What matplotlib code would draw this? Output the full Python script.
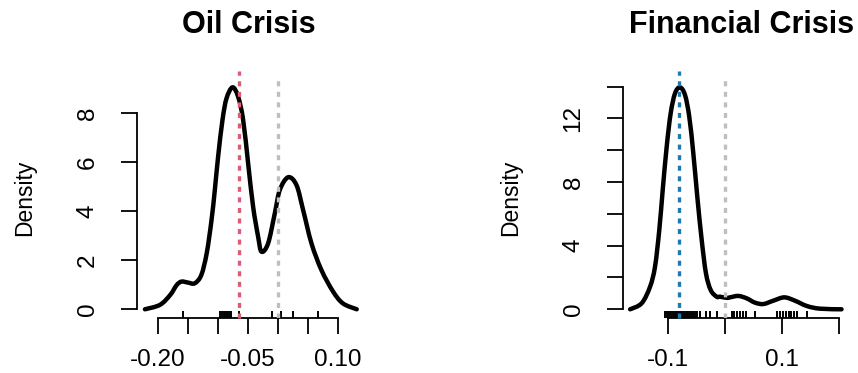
import matplotlib
matplotlib.use("Agg")
import matplotlib.pyplot as plt
from matplotlib.path import Path
from matplotlib.patches import PathPatch

plt.rcParams['font.family'] = ['Liberation Sans', 'DejaVu Sans']
plt.rcParams['axes.unicode_minus'] = False
plt.rcParams['lines.scale_dashes'] = False

# ---------------- data ----------------
titles = ["Oil Crisis", "Financial Crisis"]

oil_x = [-0.222, -0.197, -0.180, -0.169, -0.161, -0.150, -0.139, -0.128, -0.119,
         -0.111, -0.1055, -0.100, -0.0927, -0.086, -0.076, -0.0667, -0.0583, -0.050,
         -0.0417, -0.0333, -0.0277, -0.0167, -0.0055, 0.0028, 0.0167, 0.0306, 0.0417,
         0.0556, 0.0722, 0.0917, 0.108, 0.131]
oil_y = [0.0, 0.18, 0.58, 0.99, 1.13, 1.09, 1.06, 1.40, 2.29,
         3.64, 4.87, 6.23, 7.73, 8.61, 9.06, 8.68, 7.73, 5.96,
         4.19, 2.96, 2.35, 2.69, 3.92, 4.87, 5.39, 5.07, 4.05,
         2.69, 1.60, 0.72, 0.24, 0.0]
oil_rug = [-0.159, -0.097, -0.094, -0.091, -0.089, -0.086, -0.083, -0.080, -0.078,
           -0.066, -0.011, 0.0056, 0.025, 0.067]
oil_event = -0.065
oil_zero = 0.0

fin_x = [-0.167, -0.1467, -0.132, -0.1233, -0.1158, -0.1098, -0.1028, -0.0958, -0.0882,
         -0.0795, -0.0707, -0.0632, -0.0561, -0.0491, -0.0414, -0.0339, -0.0256, -0.0151,
         -0.0093, 0.0025, 0.0082, 0.0228, 0.0375, 0.052, 0.0667, 0.0842, 0.1035, 0.1223,
         0.1428, 0.166, 0.204]
fin_y = [0.0, 0.38, 1.42, 2.68, 4.99, 7.50, 10.23, 12.33, 13.58,
         13.96, 13.48, 12.11, 9.81, 7.08, 4.36, 2.26, 1.21, 0.79,
         0.79, 0.72, 0.75, 0.84, 0.69, 0.42, 0.33, 0.54, 0.75, 0.54,
         0.21, 0.04, 0.0]
fin_rug = [-0.106, -0.103, -0.100, -0.098, -0.095, -0.092, -0.089, -0.086, -0.083,
           -0.080, -0.077, -0.074, -0.071, -0.068, -0.065, -0.062, -0.059, -0.056,
           -0.053, -0.050, -0.044, -0.033, -0.027, -0.015, 0.011, 0.016, 0.021,
           0.026, 0.031, 0.037, 0.052, 0.090, 0.096, 0.101, 0.106, 0.111, 0.116,
           0.121, 0.125, 0.143]
fin_event = -0.081
fin_zero = 0.0

oil_xticks = [-0.20, -0.15, -0.10, -0.05, 0.00, 0.05, 0.10]
oil_xlabels = ["-0.20", "", "", "-0.05", "", "", "0.10"]
oil_yticks = [0, 2, 4, 6, 8]
oil_ylabels = ["0", "2", "4", "6", "8"]

fin_xticks = [-0.1, 0.0, 0.1, 0.2]
fin_xlabels = ["-0.1", "", "0.1", ""]
fin_yticks = [0, 2, 4, 6, 8, 10, 12, 14]
fin_ylabels = ["0", "", "4", "", "8", "", "12", ""]

# ---------------- figure ----------------
W, H = 858, 373
fig = plt.figure(figsize=(W / 100, H / 100), dpi=100)


def px_axes(l, r, t, b):
    return fig.add_axes([l / W, (H - b) / H, (r - l) / W, (b - t) / H])


def smooth_path(xs, ys):
    """Cubic Bezier path passing through every read point (Catmull-Rom handles)."""
    pts = list(zip(xs, ys))
    n = len(pts)
    verts = [pts[0]]
    codes = [Path.MOVETO]
    for i in range(n - 1):
        p0 = pts[i - 1] if i > 0 else pts[i]
        p1 = pts[i]
        p2 = pts[i + 1]
        p3 = pts[i + 2] if i + 2 < n else pts[i + 1]
        c1 = (p1[0] + (p2[0] - p0[0]) / 6.0, p1[1] + (p2[1] - p0[1]) / 6.0)
        c2 = (p2[0] - (p3[0] - p1[0]) / 6.0, p2[1] - (p3[1] - p1[1]) / 6.0)
        verts += [c1, c2, p2]
        codes += [Path.CURVE4, Path.CURVE4, Path.CURVE4]
    return Path(verts, codes)


panels = [
    dict(box=(136.7, 365.3, 78.5, 318.1), xlim=(-0.2357, 0.1453), ylim=(-0.36, 9.42),
         x=oil_x, y=oil_y, rug=oil_rug, ev=oil_event, zero=oil_zero, evcol="#DF5A74",
         xt=oil_xticks, xl=oil_xlabels, yt=oil_yticks, yl=oil_ylabels, title=titles[0],
         tx=248.5),
    dict(box=(622.7, 850.1, 78.4, 318.2), xlim=(-0.180, 0.219), ylim=(-0.56, 14.52),
         x=fin_x, y=fin_y, rug=fin_rug, ev=fin_event, zero=fin_zero, evcol="#1F78B0",
         xt=fin_xticks, xl=fin_xlabels, yt=fin_yticks, yl=fin_ylabels, title=titles[1],
         tx=742.0),
]

for p in panels:
    l, r, t, b = p["box"]
    ax = px_axes(l, r, t, b)
    ax.set_xlim(*p["xlim"])
    ax.set_ylim(*p["ylim"])
    ax.patch.set_alpha(0)

    patch = PathPatch(smooth_path(p["x"], p["y"]), facecolor="none", edgecolor="black",
                      lw=3.2, joinstyle="round", capstyle="round", zorder=3)
    ax.add_patch(patch)

    # rug
    for v in p["rug"]:
        ax.plot([v, v], [0, 0.029], transform=ax.get_xaxis_transform(),
                color="black", lw=1.4, solid_capstyle="butt", zorder=2)

    # vertical reference lines
    ax.axvline(p["zero"], ymin=0, ymax=1.0, color="#BEBEBE", lw=2.4,
               dashes=(3.6, 4.0), dash_capstyle="butt", zorder=4)
    ax.axvline(p["ev"], ymin=0, ymax=1.03, color=p["evcol"], lw=2.4,
               dashes=(3.6, 4.0), dash_capstyle="butt", zorder=5, clip_on=False)

    for s in ["top", "right"]:
        ax.spines[s].set_visible(False)
    ax.spines["left"].set_bounds(p["yt"][0], p["yt"][-1])
    ax.spines["bottom"].set_bounds(p["xt"][0], p["xt"][-1])
    for s in ["left", "bottom"]:
        ax.spines[s].set_linewidth(1.3)

    ax.set_xticks(p["xt"])
    ax.set_xticklabels(p["xl"])
    ax.set_yticks(p["yt"])
    ax.set_yticklabels(p["yl"])
    ax.tick_params(axis="both", length=11.5, width=1.3, labelsize=17.5)
    ax.tick_params(axis="x", pad=11)
    ax.tick_params(axis="y", pad=16)
    for lab in ax.get_yticklabels():
        lab.set_rotation(90)
        lab.set_va("center")

    fig.text(p["tx"] / W, (H - 33.3) / H, p["title"], ha="center", va="baseline",
             fontsize=22, fontweight="bold")
    fig.text((l - 111.7) / W, (H - 197.5) / H, "Density", ha="center", va="center",
             rotation=90, fontsize=16.5)

fig.savefig("out.png", dpi=100)
